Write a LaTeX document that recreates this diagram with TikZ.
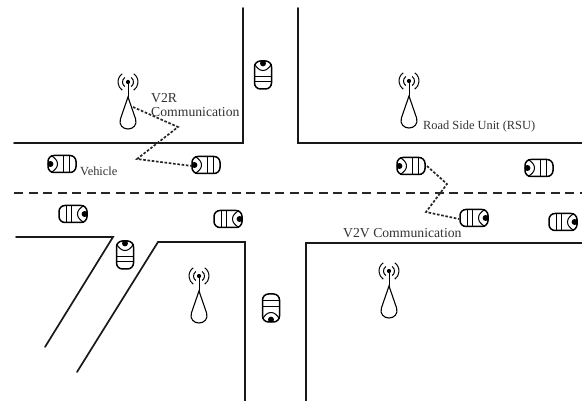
\documentclass[tikz,border=0pt]{standalone}
\usepackage{fontspec}
\setmainfont{Liberation Serif}
\tikzset{
  road/.style={line width=1.7pt,black!90,line cap=round,line join=miter},
  centre/.style={line width=1.5pt,black!85,dash pattern=on 9pt off 5.5pt},
  radio/.style={line width=1.7pt,black!85,dash pattern=on 2.6pt off 1.7pt},
  lbl/.style={inner sep=0pt,anchor=base west,text=black!80,font=\fontsize{13.7}{14}\selectfont},
  small lbl/.style={lbl,font=\fontsize{12.4}{13}\selectfont},
  car/.pic={
    \draw[line width=1.5pt,rounded corners=6pt] (-14,-8.5) rectangle (14,8.5);
    \draw[line width=1pt] (-11,-8.5) .. controls (-6.5,-6) and (-4.5,-3) .. (-4.5,0)
                                      .. controls (-4.5,3) and (-6.5,6) .. (-11,8.5);
    \draw[line width=1pt] (1.5,-8.5) -- (1.5,8.5) (7,-8.5) -- (7,8.5);
    \fill (-11.6,0) circle (3pt);
  },
  tower/.pic={
    \fill (0,0) circle (2.1pt);
    \draw[line width=1pt] (0,0) -- (0,15);
    \draw[line width=1.1pt] (0,15) -- (-7.6,37)
       .. controls (-9.5,43) and (-5,47) .. (0,47)
       .. controls (5,47) and (9.5,43) .. (7.6,37) -- cycle;
    \draw[line width=1pt] (235:5.5) arc[start angle=125,end angle=235,radius=5.5pt];
    \draw[line width=1pt] (-55:5.5) arc[start angle=55,end angle=-55,radius=5.5pt];
    \draw[line width=1pt] (235:10) arc[start angle=125,end angle=235,radius=10pt];
    \draw[line width=1pt] (-55:10) arc[start angle=55,end angle=-55,radius=10pt];
  }
}
\begin{document}
\begin{tikzpicture}[x=1pt,y=-1pt]
\useasboundingbox[fill=white] (0,0) rectangle (582,401);
% roads
\draw[road] (14,143) -- (243,143) -- (243,8);
\draw[road] (298,8) -- (298,143) -- (582,143);
\draw[road] (16,237) -- (113,237) -- (45,347);
\draw[road] (77,372) -- (158,242) -- (245,242) -- (245,401);
\draw[road] (306,401) -- (306,243) -- (582,243);
\draw[centre] (14,193) -- (582,193);
% road-side units
\pic at (128,82) {tower};
\pic at (409,81) {tower};
\pic at (199,276) {tower};
\pic at (389,271) {tower};
% vehicles
\pic at (263,75) [rotate=-90] {car};
\pic at (62,164) {car};
\pic at (206,165) {car};
\pic at (411,166) {car};
\pic at (539,168) {car};
\pic at (474,218) [rotate=180] {car};
\pic at (563,222) [rotate=180] {car};
\pic at (73,214) [rotate=180] {car};
\pic at (228,219) [rotate=180] {car};
\pic at (125,255) [rotate=-90] {car};
\pic at (271,308) [rotate=90] {car};
% wireless links
\coordinate (v2rA) at (133,107);
\coordinate (v2rB) at (178,127);
\coordinate (v2rC) at (137,159);
\coordinate (v2rD) at (192,166);
\coordinate (v2vA) at (427,166);
\coordinate (v2vB) at (447,184);
\coordinate (v2vC) at (426,212);
\coordinate (v2vD) at (459,219);
\draw[radio] (v2rA) -- (v2rB) -- (v2rC) -- (v2rD);
\draw[radio] (v2vA) -- (v2vB) -- (v2vC) -- (v2vD);
% labels
\node[lbl] (l1) at (151,102.5) {V2R};
\node[lbl] (l2) at (151,116.5) {Communication};
\node[small lbl] (l3) at (80,176) {Vehicle};
\node[small lbl] (l4) at (423,130) {Road Side Unit (RSU)};
\node[lbl] (l5) at (343,238) {V2V Communication};
\end{tikzpicture}
\end{document}
